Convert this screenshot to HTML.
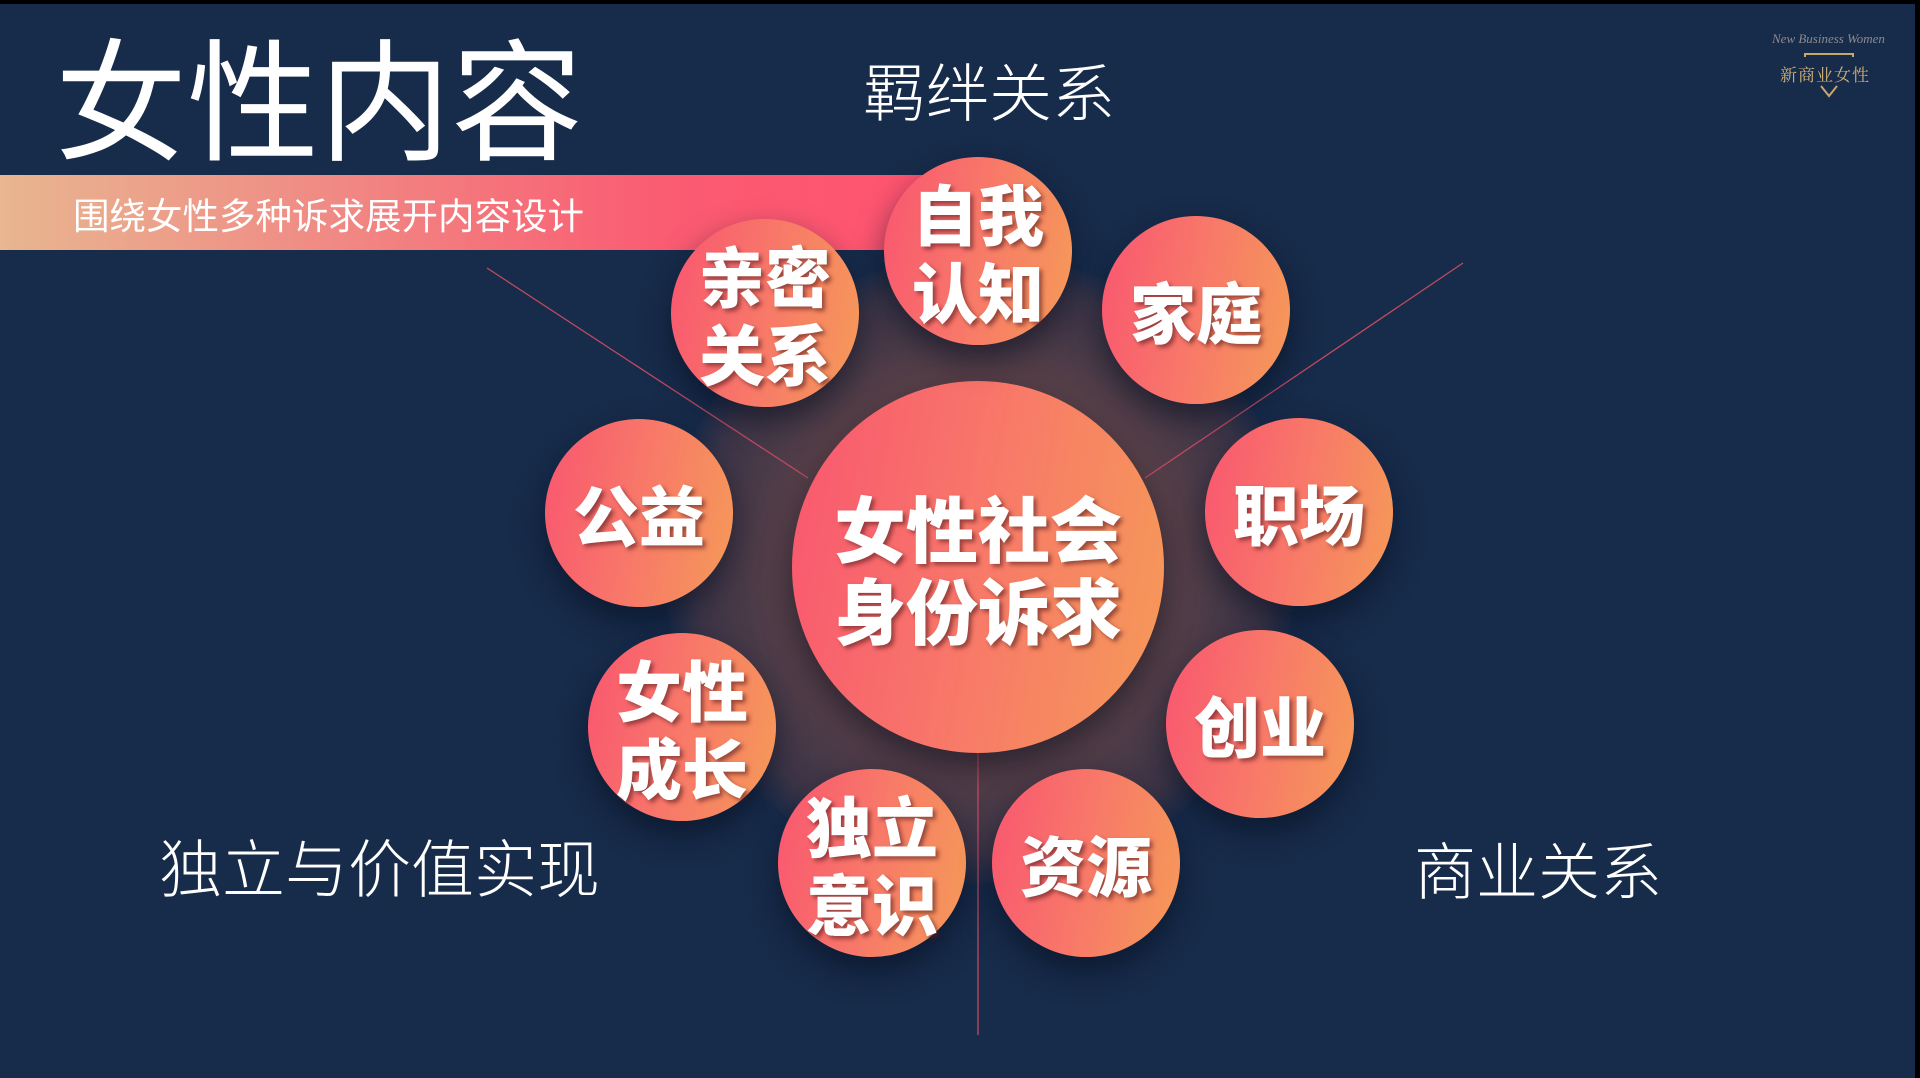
<!DOCTYPE html>
<html><head><meta charset="utf-8"><style>
*{margin:0;padding:0;box-sizing:border-box}
body{width:1920px;height:1078px;overflow:hidden;background:#172b4a;font-family:"Liberation Sans","Noto Sans CJK SC",sans-serif;position:relative}
.a{position:absolute}
.t{color:#fff;white-space:nowrap}
.c{position:absolute;border-radius:50%;background:linear-gradient(100deg,#f9566f 0%,#f8756a 45%,#f59a58 100%);box-shadow:0 14px 30px rgba(5,12,30,.55);display:flex;align-items:center;justify-content:center;text-align:center;color:#fff;font-family:"Noto Sans CJK SC",sans-serif;font-weight:900;text-shadow:3px 3px 4px rgba(90,30,30,.6)}
.s{width:188px;height:188px;font-size:66px;line-height:78px}
</style></head><body>
<div class="a" style="left:0;top:0;width:1920px;height:4px;background:#000"></div>
<div class="a" style="left:1915px;top:0;width:5px;height:1078px;background:#000"></div>
<div class="a" style="left:665px;top:254px;width:630px;height:630px;border-radius:50%;background:radial-gradient(circle,#7e5252 0%,#5e4248 38%,#3c3548 64%,rgba(23,43,74,0) 72%)"></div>
<div class="a t" style="left:55px;top:14px;font-size:132px;line-height:160px;font-family:'Noto Sans CJK SC',sans-serif;font-weight:400">女性内容</div>
<div class="a" style="left:0;top:175px;width:940px;height:75px;background:linear-gradient(90deg,#e8b690 0%,#f08a84 35%,#fa5c72 70%,#ff5370 100%)"></div>
<div class="a t" style="left:73px;top:192px;font-size:36.5px;line-height:44px;font-family:'Noto Sans CJK SC',sans-serif">围绕女性多种诉求展开内容设计</div>
<div class="a t" style="left:863px;top:52px;font-size:63px;line-height:76px;font-family:'Noto Sans CJK SC',sans-serif;font-weight:300">羁绊关系</div>
<div class="a t" style="left:159px;top:828px;font-size:63px;line-height:76px;font-family:'Noto Sans CJK SC',sans-serif;font-weight:300">独立与价值实现</div>
<div class="a t" style="left:1414px;top:829px;font-size:62px;line-height:76px;font-family:'Noto Sans CJK SC',sans-serif;font-weight:300">商业关系</div>
<div class="a" style="left:1772px;top:31px;color:#8c8a90;font-family:'Liberation Serif',serif;font-style:italic;font-size:13px">New Business Women</div>
<svg class="a" style="left:1775px;top:52px" width="110" height="48"><polyline points="30,5 30,2 78,2 78,5" fill="none" stroke="#c8a86a" stroke-width="2"/><polyline points="46,34 54,44 62,34" fill="none" stroke="#c8a86a" stroke-width="2"/></svg>
<div class="a" style="left:1780px;top:61px;color:#d2b27a;font-family:'Noto Serif CJK SC',serif;font-size:17px;letter-spacing:1px">新商业女性</div>
<svg class="a" style="left:0;top:0" width="1920" height="1078"><g stroke="#c24a62" stroke-width="1.3"><line x1="487" y1="268" x2="808" y2="478"/><line x1="1463" y1="263" x2="1145" y2="478"/><line x1="978" y1="753" x2="978" y2="1035"/></g></svg>
<div class="c" style="left:792px;top:381px;width:372px;height:372px;font-size:72px;line-height:82px">女性社会<br>身份诉求</div>
<div class="c s" style="left:884px;top:157px">自我<br>认知</div>
<div class="c s" style="left:671px;top:219px">亲密<br>关系</div>
<div class="c s" style="left:1102px;top:216px">家庭</div>
<div class="c s" style="left:545px;top:419px">公益</div>
<div class="c s" style="left:1205px;top:418px">职场</div>
<div class="c s" style="left:588px;top:633px">女性<br>成长</div>
<div class="c s" style="left:1166px;top:630px">创业</div>
<div class="c s" style="left:778px;top:769px">独立<br>意识</div>
<div class="c s" style="left:992px;top:769px">资源</div>
</body></html>
